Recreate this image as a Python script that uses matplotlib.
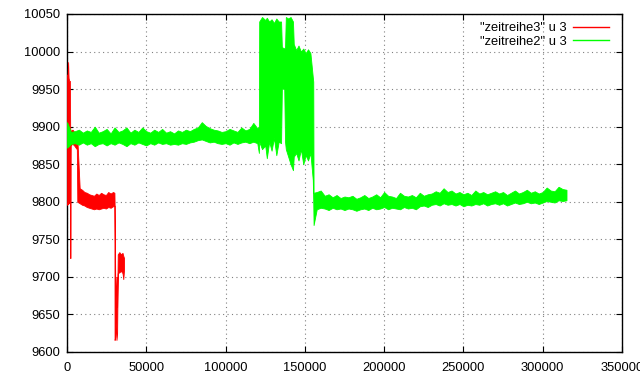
import numpy as np
import matplotlib
matplotlib.use("Agg")
import matplotlib.pyplot as plt
from matplotlib.lines import Line2D

# series "zeitreihe3" (red): envelope (low / high)
red_x = [0, 400, 700, 1000, 1400, 1800, 2000, 2100, 2300, 2600, 3500, 4500, 5500, 6200, 6500,
         8000, 9500, 11000, 12500, 14000, 15500, 17000, 18500, 20000, 21500, 23000, 24500,
         26000, 27500, 29000, 29900,
         30000, 30400, 30800, 31200, 31600, 32000, 33000, 34000, 35000, 35500, 36000]
red_hi = [9969, 9970, 9986, 9965, 9961, 9961, 9900, 9895, 9893, 9895, 9896, 9893, 9890, 9888, 9885,
          9818, 9816, 9813, 9812, 9810, 9809, 9808, 9811, 9809, 9812, 9810, 9809,
          9813, 9811, 9813, 9812,
          9800, 9700, 9665, 9700, 9660, 9730, 9733, 9730, 9732, 9728, 9725]
red_lo = [9796, 9798, 9797, 9800, 9798, 9800, 9880, 9725, 9880, 9876, 9877, 9875, 9872, 9870, 9800,
          9798, 9796, 9795, 9793, 9792, 9791, 9790, 9791, 9790, 9791, 9792, 9791,
          9793, 9792, 9794, 9795,
          9616, 9620, 9640, 9616, 9625, 9705, 9706, 9708, 9705, 9697, 9710]

# series "zeitreihe2" (green), part 1: 0 .. 120000, every 2500
g1_x = list(range(0, 120001, 2500))
g1_hi = [9906, 9893, 9894, 9896, 9892, 9895, 9893, 9900, 9892, 9894, 9897, 9891, 9899, 9893, 9895,
         9899, 9892, 9896, 9893, 9899, 9894, 9892, 9896, 9893, 9897, 9892, 9894, 9891, 9895, 9893,
         9896, 9894, 9897, 9899, 9906, 9901, 9898, 9896, 9895, 9893, 9894, 9897, 9895, 9893, 9899,
         9895, 9897, 9905, 9898]
g1_lo = [9872, 9877, 9878, 9876, 9879, 9876, 9878, 9874, 9877, 9878, 9875, 9878, 9876, 9879, 9877,
         9874, 9878, 9876, 9879, 9877, 9875, 9878, 9876, 9879, 9877, 9878, 9876, 9877, 9876, 9878,
         9877, 9879, 9880, 9882, 9883, 9881, 9879, 9880, 9878, 9877, 9878, 9876, 9879, 9877, 9879,
         9880, 9878, 9880, 9878]

# part 2: the noisy stretch 120000 .. 155300
g2_x = [120000, 121000, 121200, 123000, 125000, 126000, 127500, 129000, 130500, 132000, 133500,
        135000, 135500, 137000, 137500, 138000, 139500, 141000, 142500, 143000, 144500, 146000,
        147500, 149000, 150500, 152000, 153500, 155000, 155300]
g2_hi = [9898, 9900, 10040, 10046, 10042, 10045, 10040, 10043, 10038, 10044, 10040,
         10040, 10006, 10004, 10006, 10046, 10044, 10046, 10040, 10010, 10002, 10008,
         10000, 10004, 9998, 10003, 9998, 9966, 9960]
g2_lo = [9878, 9865, 9880, 9870, 9875, 9858, 9880, 9868, 9885, 9862, 9880,
         9878, 9951, 9950, 9880, 9870, 9860, 9850, 9842, 9860, 9865, 9855,
         9870, 9850, 9862, 9855, 9865, 9829, 9800]

# part 3: 155500 .. 315000
g3_x = [155500] + list(range(157500, 315001, 2500))
g3_hi = [9812,
         9813, 9815, 9808, 9810, 9806, 9809, 9805, 9807, 9806, 9808, 9804, 9806, 9809, 9805, 9807,
         9810, 9806, 9813, 9808, 9807, 9805, 9812, 9808, 9807, 9809, 9806, 9812, 9808, 9810, 9811,
         9814, 9812, 9818, 9813, 9815, 9811, 9813, 9810, 9812, 9809, 9815, 9811, 9813, 9810, 9812,
         9814, 9811, 9813, 9809, 9812, 9815, 9811, 9813, 9816, 9812, 9814, 9811, 9813, 9819, 9815,
         9814, 9820, 9817, 9816]
g3_lo = [9769,
         9790, 9792, 9791, 9789, 9792, 9790, 9791, 9789, 9791, 9790, 9788, 9790, 9791, 9789, 9792,
         9790, 9791, 9793, 9790, 9792, 9791, 9790, 9793, 9791, 9792, 9790, 9794, 9795, 9793, 9796,
         9797, 9795, 9798, 9796, 9797, 9795, 9797, 9794, 9796, 9795, 9797, 9796, 9798, 9795, 9797,
         9798, 9796, 9798, 9795, 9797, 9799, 9797, 9798, 9800, 9798, 9799, 9797, 9799, 9801, 9800,
         9799, 9802, 9801, 9802]

green_x = g1_x + g2_x + g3_x
green_hi = g1_hi + g2_hi + g3_hi
green_lo = g1_lo + g2_lo + g3_lo

labels = ['"zeitreihe3" u 3', '"zeitreihe2" u 3']
RED = "#ff0000"
GREEN = "#00ff00"

plt.rcParams["font.family"] = ["Liberation Sans", "DejaVu Sans"]
plt.rcParams["font.size"] = 9.3

fig = plt.figure(figsize=(6.4, 3.84), dpi=100)
ax = fig.add_axes([67 / 640, 32 / 384, 555 / 640, 338 / 384])

ax.fill_between(red_x, red_lo, red_hi, color=RED, linewidth=0.6, edgecolor=RED, zorder=3)
ax.fill_between(green_x, green_lo, green_hi, color=GREEN, linewidth=0.6, edgecolor=GREEN, zorder=4)

ax.set_xlim(0, 350000)
ax.set_ylim(9600, 10050)
ax.set_xticks(np.arange(0, 350001, 50000))
ax.set_yticks(np.arange(9600, 10051, 50))
ax.tick_params(direction="in", length=4.3, width=0.8, top=True, right=True, pad=5)
ax.tick_params(axis="x", pad=7)
ax.grid(True, color="#808080", linestyle=(0, (1, 3)), linewidth=0.8)
ax.set_axisbelow(True)
for s in ax.spines.values():
    s.set_linewidth(1.0)

handles = [Line2D([], [], color=RED, lw=1), Line2D([], [], color=GREEN, lw=1)]
fig.legend(handles, labels, loc="upper right", bbox_to_anchor=(609 / 640, 1 - 22 / 384),
           frameon=False, markerfirst=False, handlelength=2.8, handletextpad=0.5,
           labelspacing=0.15, borderpad=0, borderaxespad=0)

fig.savefig("out.png", dpi=100)
